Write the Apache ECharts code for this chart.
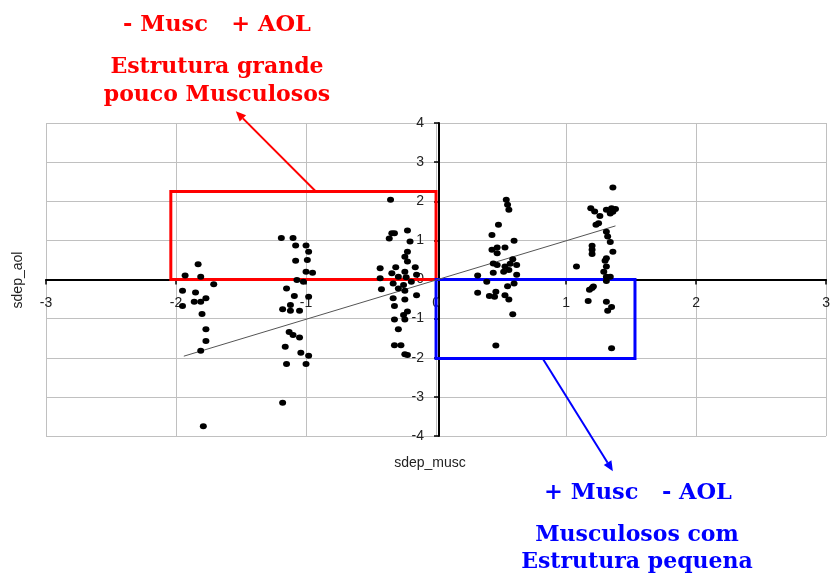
<!DOCTYPE html>
<html>
<head>
<meta charset="utf-8">
<script src="https://cdn.jsdelivr.net/npm/echarts@6/dist/echarts.min.js"></script>
<style>html,body{margin:0;padding:0;background:#fff}#c{width:833px;height:573px}</style>
</head>
<body>
<div id="c"></div>
<script>
// sdep_musc (x) values
var musc = [
  -1.93,-1.83,-1.81,-1.71,-1.95,-1.85,-1.95,-1.86,-1.81,-1.77,-1.80,-1.77,-1.77,-1.81,-1.79,
  -1.19,-1.10,-1.08,-1.00,-0.98,-1.08,-0.99,-1.00,-0.95,-1.07,-1.02,-1.15,-1.09,-0.98,-1.12,-1.18,-1.12,-1.05,-1.13,-1.10,-1.05,-1.16,-1.04,-0.98,-1.15,-1.00,-1.18,
  -0.35,-0.34,-0.32,-0.36,-0.22,-0.20,-0.22,-0.24,-0.22,-0.31,-0.43,-0.16,-0.34,-0.24,-0.15,-0.43,-0.29,-0.23,-0.19,-0.33,-0.25,-0.42,-0.29,-0.24,-0.15,-0.33,-0.24,-0.32,-0.22,-0.25,-0.32,-0.24,-0.29,-0.32,-0.27,-0.24,-0.22,
  0.54,0.55,0.56,0.48,0.43,0.60,0.43,0.47,0.53,0.47,0.59,0.44,0.47,0.53,0.57,0.62,0.52,0.56,0.44,0.32,0.62,0.39,0.60,0.55,0.32,0.46,0.41,0.45,0.53,0.56,0.59,0.46,
  1.36,1.19,1.22,1.26,1.31,1.35,1.38,1.34,1.36,1.23,1.25,1.31,1.32,1.34,1.20,1.20,1.20,1.36,1.31,1.30,1.08,1.31,1.29,1.31,1.34,1.31,1.21,1.18,1.20,1.17,1.31,1.35,1.32,1.35
];
// sdep_aol (y) values
var aol = [
  0.10,0.39,0.07,-0.12,-0.29,-0.33,-0.68,-0.57,-0.57,-0.48,-0.88,-1.27,-1.57,-1.82,-3.75,
  1.06,1.06,0.87,0.87,0.71,0.48,0.50,0.20,0.17,-0.01,-0.06,-0.23,-0.42,-0.44,-0.65,-0.76,-0.80,-0.80,-1.34,-1.42,-1.48,-1.72,-1.87,-1.95,-2.16,-2.16,-3.15,
  2.04,1.18,1.18,1.05,1.25,0.97,0.71,0.58,0.46,0.31,0.29,0.31,0.16,0.20,0.12,0.03,0.07,0.06,-0.06,-0.10,-0.14,-0.25,-0.23,-0.29,-0.40,-0.48,-0.51,-0.68,-0.82,-0.91,-1.02,-1.02,-1.27,-1.68,-1.68,-1.91,-1.93,
  2.04,1.91,1.78,1.40,1.14,0.99,0.76,0.82,0.82,0.67,0.52,0.41,0.37,0.33,0.40,0.37,0.20,0.24,0.17,0.10,0.12,-0.06,-0.10,-0.17,-0.34,-0.31,-0.42,-0.44,-0.40,-0.51,-0.89,-1.69,
  2.35,1.82,1.74,1.62,1.78,1.82,1.80,1.69,1.73,1.40,1.44,1.22,1.10,0.96,0.86,0.76,0.65,0.71,0.54,0.48,0.33,0.33,0.20,0.07,0.07,-0.04,-0.18,-0.26,-0.22,-0.55,-0.57,-0.70,-0.80,-1.76
];
// fitted trend line endpoints
var trendX = [-1.94, 1.38];
var trendY = [-1.96, 1.37];
// axis ticks
var xTicks = [-3,-2,-1,0,1,2,3];
var yTicks = [-4,-3,-2,-1,0,1,2,3,4];
// annotation boxes [x0,y0,x1,y1] and arrows [xStart,yStart,xEnd,yEnd] in data units
var redBox = [-2.04, 0, 0, 2.25];
var blueBox = [0, 0, 1.53, -2.02];
var redArrow = [-0.93, 2.27, -1.54, 4.30];
var blueArrow = [0.82, -2.02, 1.36, -4.90];
var redLines = ['- Musc   + AOL', 'Estrutura grande', 'pouco Musculosos'];
var blueLines = ['+ Musc   - AOL', 'Musculosos com', 'Estrutura pequena'];

var pts = musc.map(function(x, i){ return [x, aol[i]]; });
var trend = trendX.map(function(x, i){ return [x, trendY[i]]; });

var W = 833, H = 573;
var G = {left: 46, right: 1, top: 123, bottom: 137};
var gw = W - G.left - G.right, gh = H - G.top - G.bottom;
// place axes through the origin (x axis up from the bottom, y axis right from the left)
var xOff = -gh * (0 - yTicks[0]) / (yTicks[yTicks.length-1] - yTicks[0]);
var yOff = -gw * (0 - xTicks[0]) / (xTicks[xTicks.length-1] - xTicks[0]);

var chart = echarts.init(document.getElementById('c'));
var axisFont = {fontFamily: 'Liberation Sans, Arial, sans-serif', fontSize: 14, color: '#222'};
var serifH = 'bold 22.5px "DejaVu Serif"';
var serifR = 'bold 22px "DejaVu Serif"';
chart.setOption({
  animation: false,
  backgroundColor: '#fff',
  grid: G,
  xAxis: {
    type: 'value', min: xTicks[0], max: xTicks[xTicks.length-1], interval: 1,
    position: 'bottom', offset: xOff,
    axisLine: {onZero: false, lineStyle: {color: '#000', width: 2}},
    axisTick: {show: true, length: 5, lineStyle: {color: '#000', width: 1.5}},
    axisLabel: Object.assign({margin: 17}, axisFont),
    splitLine: {show: true, lineStyle: {color: '#c0c0c0', width: 1}}
  },
  yAxis: {
    type: 'value', min: yTicks[0], max: yTicks[yTicks.length-1], interval: 1,
    position: 'left', offset: yOff,
    axisLine: {onZero: false, lineStyle: {color: '#000', width: 2}},
    axisTick: {show: true, length: 5, lineStyle: {color: '#000', width: 1.5}},
    axisLabel: Object.assign({margin: 15}, axisFont),
    splitLine: {show: true, lineStyle: {color: '#c0c0c0', width: 1}}
  },
  series: [
    {
      type: 'line', data: trend, symbol: 'none', silent: true,
      lineStyle: {color: '#555', width: 1}, z: 3
    },
    {
      type: 'scatter', data: pts, symbol: 'circle', symbolSize: [7, 6],
      itemStyle: {color: '#000', opacity: 1}, z: 4
    },
    {
      type: 'scatter', data: [], clip: false, silent: true, z: 5,
      markArea: {
        silent: true,
        data: [
          [{coord: [redBox[0], redBox[3]], itemStyle: {borderColor: '#ff0000', color: 'rgba(0,0,0,0)', borderWidth: 3}},
           {coord: [redBox[2], redBox[1]]}],
          [{coord: [blueBox[0], blueBox[1]], itemStyle: {borderColor: '#0000ff', color: 'rgba(0,0,0,0)', borderWidth: 3}},
           {coord: [blueBox[2], blueBox[3]]}]
        ]
      }
    }
  ]
});

function arrow(a, color, id) {
  var p0 = chart.convertToPixel({gridIndex: 0}, [a[0], a[1]]);
  var p1 = chart.convertToPixel({gridIndex: 0}, [a[2], a[3]]);
  var ang = Math.atan2(p1[1] - p0[1], p1[0] - p0[0]);
  var L = 10, Wd = 4.5;
  var bx = p1[0] - L * Math.cos(ang), by = p1[1] - L * Math.sin(ang);
  var nx = -Math.sin(ang) * Wd, ny = Math.cos(ang) * Wd;
  return [
    {type: 'line', id: id + 'l', z: 10, shape: {x1: p0[0], y1: p0[1], x2: bx, y2: by}, style: {stroke: color, lineWidth: 2}},
    {type: 'polygon', id: id + 'h', z: 10, shape: {points: [[p1[0], p1[1]], [bx + nx, by + ny], [bx - nx, by - ny]]}, style: {fill: color}}
  ];
}

var txt = function(t, x, y, font, color, extra) {
  var o = {type: 'text', x: x, y: y, z: 10, style: {text: t, align: 'center', verticalAlign: 'middle', font: font, fill: color}};
  if (extra) Object.assign(o, extra);
  return o;
};
var axisNameFont = '14px "Liberation Sans", Arial, sans-serif';
var graphics = [
  txt('sdep_aol', 18, 280, axisNameFont, '#222', {rotation: Math.PI/2}),
  txt('sdep_musc', 430, 463, axisNameFont, '#222'),
  txt(redLines[0], 217, 25, serifH, '#ff0000'),
  txt(redLines[1], 217, 67, serifR, '#ff0000'),
  txt(redLines[2], 217, 95, serifR, '#ff0000'),
  txt(blueLines[0], 638, 493, serifH, '#0000ff'),
  txt(blueLines[1], 637, 535, serifR, '#0000ff'),
  txt(blueLines[2], 637, 562, serifR, '#0000ff')
].concat(arrow(redArrow, '#ff0000', 'ra'), arrow(blueArrow, '#0000ff', 'ba'));
chart.setOption({graphic: graphics});
</script>
</body>
</html>
